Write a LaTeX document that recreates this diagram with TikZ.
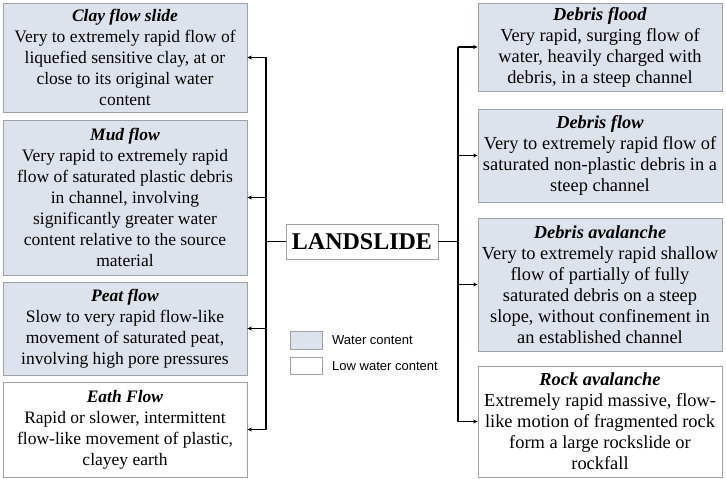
\documentclass[tikz,border=0pt]{standalone}
\usepackage{fontspec}
\setmainfont{Liberation Serif}
\newfontfamily\legendfont{Liberation Sans}
\usetikzlibrary{arrows.meta}
\definecolor{wfill}{RGB}{221,227,237}
\definecolor{bordergray}{RGB}{160,160,166}
\tikzset{
  tbox/.style={draw=bordergray, line width=0.8bp, inner sep=0pt, align=center,
    minimum width=244bp},
  wbox/.style={tbox, fill=wfill},
  lbox/.style={tbox, fill=white},
  lfont/.style={font=\fontsize{17.5bp}{21bp}\selectfont},
  rfont/.style={font=\fontsize{18.4bp}{21bp}\selectfont},
  conn/.style={line width=1.6bp, black},
  arr/.style={conn, -{Stealth[length=4.5bp,width=4bp]}},
}
\newcommand{\ttl}[1]{\textbf{\textit{#1}}}
\begin{document}
\begin{tikzpicture}[x=1bp,y=-1bp]
\useasboundingbox (0,0) rectangle (726,479);
% left column
\node[wbox, lfont, minimum height=109bp] (clay) at (125,57.5)
  {\ttl{Clay flow slide}\\Very to extremely rapid flow of\\liquefied sensitive clay, at or\\close to its original water\\content};
\node[wbox, lfont, minimum height=155bp] (mud) at (125,197.5)
  {\ttl{Mud flow}\\Very rapid to extremely rapid\\flow of saturated plastic debris\\in channel, involving\\significantly greater water\\content relative to the source\\material};
\node[wbox, lfont, minimum height=93bp] (peat) at (125,328.5)
  {\ttl{Peat flow}\\Slow to very rapid flow-like\\movement of saturated peat,\\involving high pore pressures};
\node[lbox, lfont, minimum height=95bp] (eath) at (125,429.5)
  {\ttl{Eath Flow}\\Rapid or slower, intermittent\\flow-like movement of plastic,\\clayey earth};
% right column
\node[wbox, rfont, minimum height=88bp] (flood) at (600,47)
  {\ttl{Debris flood}\\Very rapid, surging flow of\\water, heavily charged with\\debris, in a steep channel};
\node[wbox, rfont, minimum height=93bp] (dflow) at (600,155.5)
  {\ttl{Debris flow}\\Very to extremely rapid flow of\\saturated non-plastic debris in a\\steep channel};
\node[wbox, rfont, minimum height=133bp] (aval) at (600,284.5)
  {\ttl{Debris avalanche}\\Very to extremely rapid shallow\\flow of partially of fully\\saturated debris on a steep\\slope, without confinement in\\an established channel};
\node[lbox, rfont, minimum height=111bp] (rock) at (600,421.5)
  {\ttl{Rock avalanche}\\Extremely rapid massive, flow-\\like motion of fragmented rock\\form a large rockslide or\\rockfall};
% title
\node[draw=bordergray, line width=0.8bp, fill=white, minimum width=152bp, minimum height=35bp, inner sep=0pt,
  font=\fontsize{24bp}{26bp}\selectfont\bfseries] (land) at (362,241.5) {LANDSLIDE};
% buses
\coordinate (lx) at (266,0);
\coordinate (rx) at (458,0);
\draw[conn] (lx |- clay.east) -- (lx |- eath.east);
\draw[conn] (rx |- flood.west) -- (rx |- rock.west);
\draw[conn] (land.west) -- (lx |- land.west);
\draw[conn] (land.east) -- (rx |- land.east);
\foreach \n in {clay,mud,peat,eath} \draw[arr] (lx |- \n.east) -- (\n.east);
\foreach \n in {flood,dflow,aval,rock} \draw[arr] (rx |- \n.west) -- (\n.west);
% legend
\node[draw=bordergray, line width=0.8bp, fill=wfill, minimum width=32bp, minimum height=18bp, inner sep=0pt] (lg1) at (306,340) {};
\node[draw=bordergray, line width=0.8bp, fill=white, minimum width=32bp, minimum height=17bp, inner sep=0pt] (lg2) at (306,365.5) {};
\node[anchor=west, inner sep=0pt, font=\legendfont\fontsize{13bp}{15bp}\selectfont] (lt1) at (332,340) {Water content};
\node[anchor=west, inner sep=0pt, font=\legendfont\fontsize{13bp}{15bp}\selectfont] (lt2) at (332,366) {Low water content};
\end{tikzpicture}
\end{document}
